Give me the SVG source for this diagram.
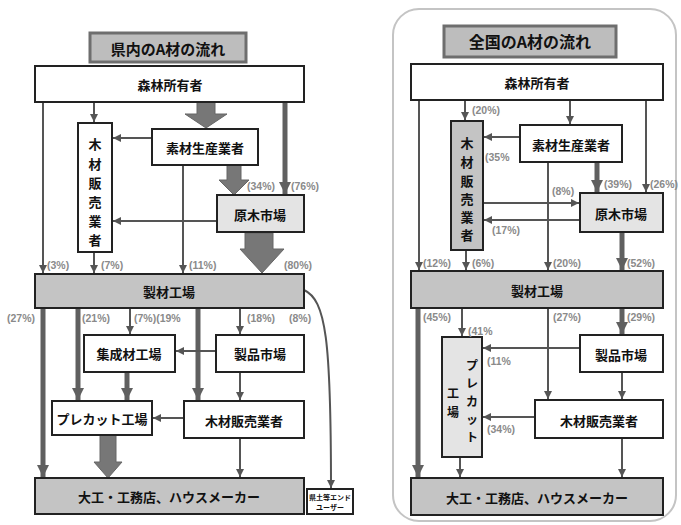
<svg xmlns="http://www.w3.org/2000/svg" width="681" height="525" viewBox="0 0 681 525">
<defs>
<style>
.box{fill:#fff;stroke:#222;stroke-width:2}
.gbox{fill:#c4c4c4;stroke:#222;stroke-width:2}
.lbox{fill:#e4e4e4;stroke:#222;stroke-width:2}
.ttl{fill:#bdbdbd;stroke:#6e6e6e;stroke-width:3}
.t{font-family:"Noto Sans CJK JP","Noto Sans CJK SC",sans-serif;font-weight:700;font-size:13px;fill:#111;text-anchor:middle;dominant-baseline:central}
.tv{font-family:"Noto Sans CJK JP","Noto Sans CJK SC",sans-serif;font-weight:700;font-size:12px;fill:#111;text-anchor:middle;dominant-baseline:central}
.tt{font-family:"Noto Sans CJK JP","Noto Sans CJK SC",sans-serif;font-weight:700;font-size:15px;fill:#111;text-anchor:middle;dominant-baseline:central}
.ts{font-family:"Noto Sans CJK JP","Noto Sans CJK SC",sans-serif;font-weight:700;font-size:7px;fill:#111;text-anchor:middle;dominant-baseline:central}
.p{font-family:"Liberation Sans",sans-serif;font-weight:700;font-size:10.5px;fill:#8a8a8a}
.ln{stroke:#555;stroke-width:2;fill:none;marker-end:url(#a)}
.th{stroke:#606060;stroke-width:5;fill:none;marker-end:url(#b)}
.blk{fill:#777;stroke:#666;stroke-width:1}
</style>
<marker id="a" viewBox="0 0 10 10" refX="10" refY="5" markerWidth="8" markerHeight="8" markerUnits="userSpaceOnUse" orient="auto"><path d="M0,0 L10,5 L0,10 z" fill="#555"/></marker>
<marker id="b" viewBox="0 0 10 10" refX="10" refY="5" markerWidth="12" markerHeight="12" markerUnits="userSpaceOnUse" orient="auto"><path d="M0,0 L10,5 L0,10 z" fill="#606060"/></marker>
</defs>
<rect width="681" height="525" fill="#fff"/>

<!-- Right frame -->
<rect x="393" y="9" width="283" height="512" rx="26" fill="#fff" stroke="#c4c4c4" stroke-width="2"/>

<g id="connectors">
<!-- LEFT -->
<line class="ln" x1="43" y1="102" x2="43" y2="273"/>
<line class="ln" x1="94" y1="102" x2="94" y2="122"/>
<line class="th" x1="285" y1="102" x2="285" y2="194"/>
<line class="ln" x1="152" y1="138" x2="113" y2="138"/>
<line class="ln" x1="183" y1="165" x2="183" y2="273"/>
<line class="ln" x1="217" y1="221" x2="113" y2="221"/>
<line class="ln" x1="94" y1="252" x2="94" y2="273"/>
<line class="th" x1="43" y1="308" x2="43" y2="477"/>
<line class="th" x1="78" y1="308" x2="78" y2="400"/>
<line class="ln" x1="130" y1="308" x2="130" y2="334"/>
<line class="th" x1="198" y1="308" x2="198" y2="400"/>
<line class="ln" x1="240" y1="308" x2="240" y2="334"/>
<path class="ln" d="M304,290 C326,300 331,340 331,488"/>
<line class="ln" x1="216" y1="351" x2="176" y2="351"/>
<line class="ln" x1="240" y1="372" x2="240" y2="400"/>
<line class="th" x1="127" y1="372" x2="127" y2="400"/>
<line class="ln" x1="184" y1="418" x2="153" y2="418"/>
<line class="ln" x1="240" y1="438" x2="240" y2="477"/>
<path class="blk" d="M197,102 L215,102 L215,114 L227,114 L206,128 L185,114 L197,114 z"/>
<path class="blk" d="M227,165 L241,165 L241,180 L249,180 L234,195 L219,180 L227,180 z"/>
<path class="blk" d="M245,233 L273,233 L273,249 L284,249 L262,273 L240,249 L245,249 z"/>
<path class="blk" d="M100,435 L116,435 L116,462 L122,462 L108,478 L94,462 L100,462 z"/>

<!-- RIGHT -->
<line class="ln" x1="419" y1="100" x2="419" y2="270"/>
<line class="ln" x1="465" y1="100" x2="465" y2="120"/>
<line class="ln" x1="570" y1="100" x2="570" y2="124"/>
<line class="ln" x1="646" y1="100" x2="646" y2="192"/>
<line class="ln" x1="520" y1="137" x2="484" y2="137"/>
<line class="th" x1="597" y1="162" x2="597" y2="192"/>
<line class="ln" x1="548" y1="162" x2="548" y2="270"/>
<line class="ln" x1="483" y1="203" x2="579" y2="203"/>
<line class="ln" x1="580" y1="220" x2="484" y2="220"/>
<line class="th" x1="622" y1="232" x2="622" y2="270"/>
<line class="ln" x1="466" y1="250" x2="466" y2="270"/>
<line class="th" x1="418" y1="308" x2="418" y2="477"/>
<line class="ln" x1="462" y1="308" x2="462" y2="336"/>
<line class="ln" x1="548" y1="308" x2="548" y2="399"/>
<line class="th" x1="622" y1="308" x2="622" y2="334"/>
<line class="ln" x1="580" y1="348" x2="483" y2="348"/>
<line class="ln" x1="622" y1="372" x2="622" y2="399"/>
<line class="ln" x1="535" y1="417" x2="483" y2="417"/>
<line class="ln" x1="460" y1="457" x2="460" y2="477"/>
<line class="ln" x1="622" y1="438" x2="622" y2="477"/>
</g>

<!-- LEFT NODES -->
<g id="title-l"><rect class="ttl" x="90" y="33" width="156" height="29"/><text class="tt" x="168" y="48">県内のA材の流れ</text></g>
<g id="owner-l"><rect class="box" x="35" y="66" width="269" height="36"/><text class="t" x="170" y="84">森林所有者</text></g>
<g id="dealer-v-l"><rect class="box" x="78" y="123" width="34" height="129"/>
<text class="t" x="95" y="143">木</text><text class="t" x="95" y="163">材</text><text class="t" x="95" y="182">販</text><text class="t" x="95" y="201">売</text><text class="t" x="95" y="220">業</text><text class="t" x="95" y="239">者</text></g>
<g id="producer-l"><rect class="box" x="152" y="129" width="106" height="36"/><text class="t" x="205" y="147">素材生産業者</text></g>
<g id="logmarket-l"><rect class="lbox" x="217" y="195" width="87" height="37"/><text class="t" x="260" y="214">原木市場</text></g>
<g id="sawmill-l"><rect class="gbox" x="35" y="274" width="269" height="34"/><text class="t" x="169" y="291">製材工場</text></g>
<g id="glulam-l"><rect class="box" x="84" y="335" width="91" height="37"/><text class="t" x="129" y="353">集成材工場</text></g>
<g id="prodmarket-l"><rect class="box" x="216" y="335" width="88" height="37"/><text class="t" x="260" y="353">製品市場</text></g>
<g id="precut-l"><rect class="box" x="52" y="401" width="100" height="34"/><text class="t" x="102" y="418">プレカット工場</text></g>
<g id="dealer-h-l"><rect class="box" x="184" y="401" width="120" height="37"/><text class="t" x="244" y="420">木材販売業者</text></g>
<g id="builder-l"><rect class="gbox" x="35" y="478" width="269" height="36"/><text class="t" x="169" y="496">大工・工務店、ハウスメーカー</text></g>
<g id="enduser-l"><rect class="box" x="307" y="489" width="46" height="25"/><text class="ts" x="330" y="497">県土等エンド</text><text class="ts" x="330" y="507">ユーザー</text></g>

<!-- RIGHT NODES -->
<g id="title-r"><rect class="ttl" x="444" y="26" width="172" height="31"/><text class="tt" x="530" y="41" style="font-size:16px">全国のA材の流れ</text></g>
<g id="owner-r"><rect class="box" x="411" y="64" width="252" height="36"/><text class="t" x="537" y="82">森林所有者</text></g>
<g id="dealer-v-r"><rect class="gbox" x="451" y="121" width="32" height="129"/>
<text class="t" x="467" y="142">木</text><text class="t" x="467" y="161">材</text><text class="t" x="467" y="180">販</text><text class="t" x="467" y="198">売</text><text class="t" x="467" y="216">業</text><text class="t" x="467" y="234">者</text></g>
<g id="producer-r"><rect class="box" x="520" y="125" width="102" height="37"/><text class="t" x="571" y="144">素材生産業者</text></g>
<g id="logmarket-r"><rect class="lbox" x="580" y="193" width="83" height="39"/><text class="t" x="621" y="213">原木市場</text></g>
<g id="sawmill-r"><rect class="gbox" x="411" y="271" width="252" height="37"/><text class="t" x="537" y="290">製材工場</text></g>
<g id="precut-r"><rect class="lbox" x="442" y="337" width="40" height="120"/>
<text class="tv" x="472" y="364">プ</text><text class="tv" x="472" y="382">レ</text><text class="tv" x="472" y="400">カ</text><text class="tv" x="472" y="418">ッ</text><text class="tv" x="472" y="436">ト</text>
<text class="tv" x="453" y="392">工</text><text class="tv" x="453" y="411">場</text></g>
<g id="prodmarket-r"><rect class="box" x="580" y="335" width="83" height="37"/><text class="t" x="621" y="354">製品市場</text></g>
<g id="dealer-h-r"><rect class="box" x="535" y="400" width="128" height="38"/><text class="t" x="599" y="420">木材販売業者</text></g>
<g id="builder-r"><rect class="gbox" x="411" y="478" width="252" height="37"/><text class="t" x="537" y="497">大工・工務店、ハウスメーカー</text></g>

<g id="labels">
<text class="p" x="47" y="269">(3%)</text>
<text class="p" x="101" y="269">(7%)</text>
<text class="p" x="189" y="269">(11%)</text>
<text class="p" x="284" y="269">(80%)</text>
<text class="p" x="247" y="190">(34%)</text>
<text class="p" x="291" y="190">(76%)</text>
<text class="p" x="7" y="322">(27%)</text>
<text class="p" x="82" y="322">(21%)</text>
<text class="p" x="134" y="322">(7%)(19%</text>
<text class="p" x="247" y="322">(18%)</text>
<text class="p" x="289" y="322">(8%)</text>

<text class="p" x="472" y="114">(20%)</text>
<text class="p" x="485" y="161">(35%</text>
<text class="p" x="604" y="188">(39%)</text>
<text class="p" x="650" y="188">(26%)</text>
<text class="p" x="552" y="195">(8%)</text>
<text class="p" x="492" y="234">(17%)</text>
<text class="p" x="423" y="267">(12%)</text>
<text class="p" x="472" y="267">(6%)</text>
<text class="p" x="553" y="267">(20%)</text>
<text class="p" x="627" y="267">(52%)</text>
<text class="p" x="423" y="321">(45%)</text>
<text class="p" x="553" y="321">(27%)</text>
<text class="p" x="627" y="321">(29%)</text>
<text class="p" x="468" y="335">(41%</text>
<text class="p" x="487" y="365">(11%</text>
<text class="p" x="487" y="433">(34%)</text>
</g>
</svg>
